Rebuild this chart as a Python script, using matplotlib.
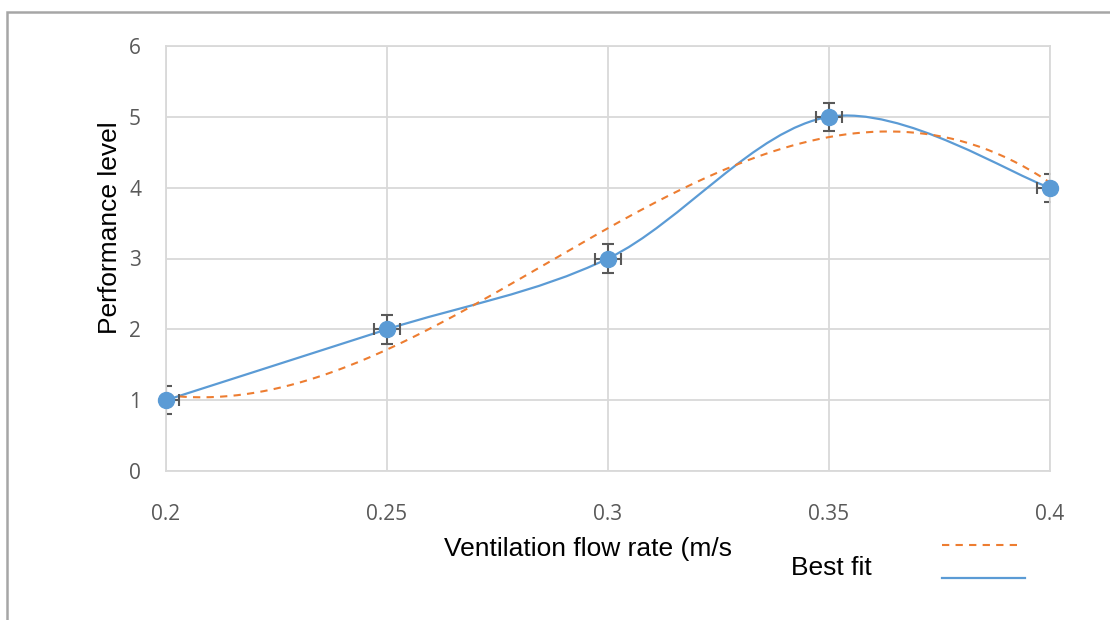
import matplotlib.pyplot as plt
import numpy as np
from matplotlib.path import Path
from matplotlib.patches import PathPatch, Rectangle
from matplotlib.lines import Line2D

# data
flow_rate = [0.2, 0.25, 0.3, 0.35, 0.4]
performance = [1, 2, 3, 5, 4]
perf_err = [0.2, 0.2, 0.2, 0.2, 0.2]
flow_err = [0.003, 0.003, 0.003, 0.003, 0.003]
x_ticks = [0.2, 0.25, 0.3, 0.35, 0.4]
x_ticklabels = ["0.2", "0.25", "0.3", "0.35", "0.4"]
y_ticks = [0, 1, 2, 3, 4, 5, 6]

blue = "#5B9BD5"
orange = "#ED7D31"
tick_gray = "#595959"


# smoothed line like Excel: cubic bezier segments through the points
def smooth_path(xs, ys, k=1.0 / 6):
    pts = np.column_stack([xs, ys]).astype(float)
    n = len(pts)
    verts = [pts[0]]
    codes = [Path.MOVETO]
    for i in range(n - 1):
        p_prev = pts[max(i - 1, 0)]
        p0 = pts[i]
        p1 = pts[i + 1]
        p_next = pts[min(i + 2, n - 1)]
        c1 = p0 + (p1 - p_prev) * k
        c2 = p1 - (p_next - p0) * k
        verts += [c1, c2, p1]
        codes += [Path.CURVE4] * 3
    return Path(verts, codes)


fig = plt.figure(figsize=(11.1, 6.2), dpi=100)
ax = fig.add_axes([166 / 1110, 1 - 471 / 620, 884 / 1110, 425 / 620])

# outer chart border (only top and left visible)
fig.add_artist(Rectangle((7 / 1110, -0.1), 1.2, 1 - 12 / 620 + 0.1,
                         transform=fig.transFigure, fill=False,
                         edgecolor="#A6A6A6", linewidth=1.8))

ax.set_xlim(0.2, 0.4)
ax.set_ylim(0, 6)
ax.set_xticks(x_ticks)
ax.set_xticklabels(x_ticklabels)
ax.set_yticks(y_ticks)
ax.grid(True, color="#D9D9D9", linewidth=1.3)
ax.set_axisbelow(True)
for s in ax.spines.values():
    s.set_color("#D9D9D9")
    s.set_linewidth(1.3)
ax.tick_params(length=0, colors=tick_gray, labelsize=15)
ax.tick_params(axis="x", pad=24)
ax.tick_params(axis="y", pad=18)
for lbl in ax.get_xticklabels() + ax.get_yticklabels():
    lbl.set_fontfamily("Open Sans")

# polynomial (order 3) trendline
coef = np.polyfit(flow_rate, performance, 3)
xs = np.linspace(flow_rate[0], flow_rate[-1], 200)
ax.plot(xs, np.polyval(coef, xs), color=orange, linestyle=(0, (3.5, 3)),
        linewidth=1.5)

# smoothed line through points
ax.add_patch(PathPatch(smooth_path(flow_rate, performance), facecolor="none",
                       edgecolor=blue, linewidth=1.6))

ax.errorbar(flow_rate, performance, yerr=perf_err, xerr=flow_err, fmt="none",
            ecolor="#595959", elinewidth=1.5, capsize=4.5, capthick=1.5)
ax.plot(flow_rate, performance, "o", color=blue, markersize=11.5,
        clip_on=False, zorder=5)

fig.text(110 / 1110, 1 - 228 / 620, "Performance level", rotation=90,
         ha="center", va="center", fontsize=19, family="Liberation Sans")
fig.text(588 / 1110, 1 - 549 / 620, "Ventilation flow rate (m/s",
         ha="center", va="center", fontsize=19, family="Liberation Sans")

# legend drawn by hand as in the original
fig.text(791 / 1110, 1 - 568 / 620, "Best fit", ha="left", va="center",
         fontsize=19, family="Liberation Sans")
fig.add_artist(Line2D([942 / 1110, 1021 / 1110], [1 - 545 / 620] * 2,
                      transform=fig.transFigure, color=orange,
                      linestyle=(0, (3.5, 3)), linewidth=1.5))
fig.add_artist(Line2D([942 / 1110, 1025 / 1110], [1 - 578 / 620] * 2,
                      transform=fig.transFigure, color=blue, linewidth=1.6))

fig.savefig("out.png", dpi=100)
